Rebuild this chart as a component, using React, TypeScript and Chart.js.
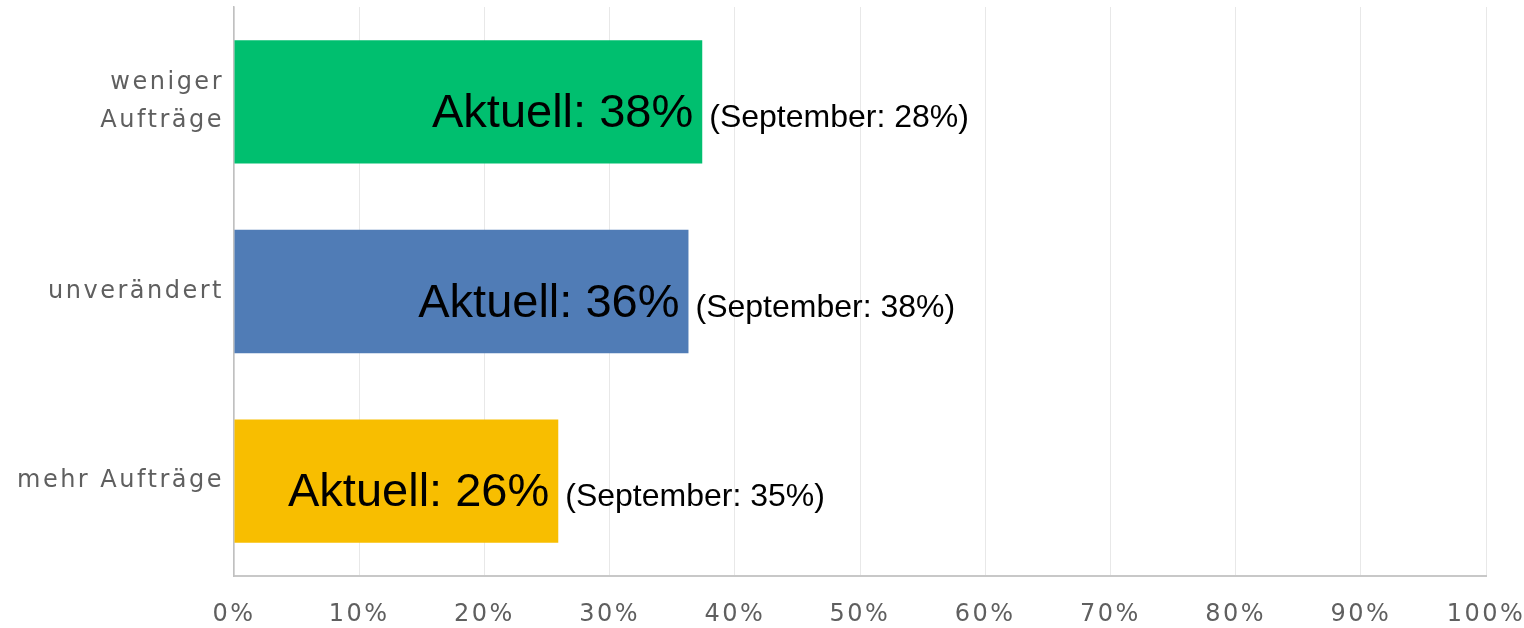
import React, { useEffect, useRef } from "react";
import { Chart, registerables } from "chart.js";

Chart.register(...registerables);

const categories: (string | string[])[] = [["weniger", "Aufträge"], "unverändert", "mehr Aufträge"];
const barValues = [37.4, 36.3, 25.9];
const aktuellLabels = [38, 36, 26];
const septemberLabels = [28, 38, 35];
const barColors = ["#00BF6F", "#507CB6", "#F8BE00"];
const xTicks = [0, 10, 20, 30, 40, 50, 60, 70, 80, 90, 100];

const spacingPlugin = {
  id: "spacing",
  beforeDraw(chart: any) {
    (chart.ctx as any).letterSpacing = "2.5px";
  },
  beforeDatasetsDraw(chart: any) {
    (chart.ctx as any).letterSpacing = "0px";
  },
};

const labelPlugin = {
  id: "barLabels",
  afterDatasetsDraw(chart: any) {
    const ctx = chart.ctx;
    const meta = chart.getDatasetMeta(0);
    ctx.save();
    (ctx as any).letterSpacing = "0px";
    meta.data.forEach((bar: any, i: number) => {
      const y = bar.y + 25;
      ctx.fillStyle = "#000";
      ctx.textBaseline = "alphabetic";
      ctx.font = '47px "Liberation Sans", Arial, sans-serif';
      ctx.textAlign = "right";
      ctx.fillText(`Aktuell: ${aktuellLabels[i]}%`, bar.x - 9, y);
      ctx.font = '32px "Liberation Sans", Arial, sans-serif';
      ctx.textAlign = "left";
      ctx.fillText(`(September: ${septemberLabels[i]}%)`, bar.x + 7, y);
    });
    ctx.restore();
  },
};

export default function App() {
  const ref = useRef<HTMLCanvasElement>(null);
  useEffect(() => {
    document.body.style.margin = "0";
    const chart = new Chart(ref.current!, {
      type: "bar",
      data: {
        labels: categories,
        datasets: [
          {
            data: barValues,
            backgroundColor: barColors,
            borderWidth: 0,
            categoryPercentage: 0.65,
            barPercentage: 1,
          },
        ],
      },
      options: {
        indexAxis: "y",
        animation: false,
        responsive: false,
        maintainAspectRatio: false,
        layout: { padding: { top: 7, right: 38, left: 0, bottom: 0 } },
        plugins: { legend: { display: false }, tooltip: { enabled: false } },
        scales: {
          x: {
            min: 0,
            max: 100,
            afterBuildTicks: (axis: any) => {
              axis.ticks = xTicks.map((v) => ({ value: v }));
            },
            afterFit: (axis: any) => {
              axis.height = 52;
              axis.paddingLeft = 0;
              axis.paddingRight = 0;
            },
            grid: { color: "#e8e8e8", lineWidth: 1, drawTicks: false },
            border: { color: "#c8c8c8", width: 2 },
            ticks: {
              padding: 24,
              color: "#5f5f5f",
              font: { family: "DejaVu Sans", size: 24 },
              callback: (v: any) => `${v}%`,
              maxRotation: 0,
            },
          },
          y: {
            afterFit: (axis: any) => {
              axis.width = 234;
              axis.paddingTop = 0;
              axis.paddingBottom = 0;
            },
            grid: { display: false },
            border: { color: "#c0c0c0", width: 1.5 },
            ticks: {
              padding: 2,
              color: "#5f5f5f",
              font: { family: "DejaVu Sans", size: 24, lineHeight: 1.6 },
            },
          },
        },
      },
      plugins: [spacingPlugin, labelPlugin],
    } as any);
    return () => chart.destroy();
  }, []);
  return (
    <div style={{ width: 1524, height: 628 }}>
      <canvas ref={ref} width={1524} height={628} style={{ display: "block" }} />
    </div>
  );
}
